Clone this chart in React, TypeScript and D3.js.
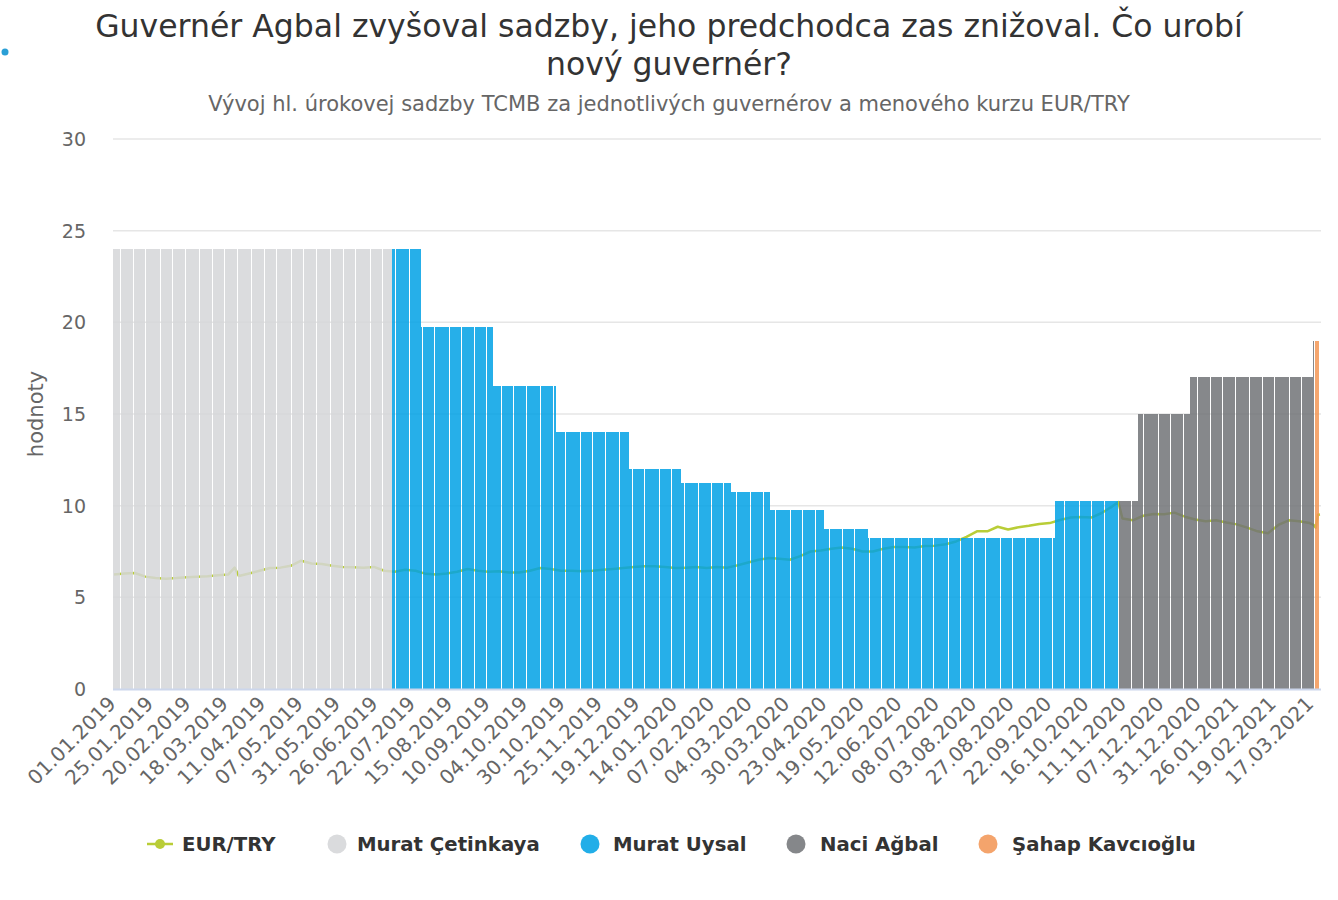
import * as d3 from "d3";

// business-day category axis, 01.01.2019 .. 23.03.2021
const rangeStart = "01.01.2019";
const rangeEnd = "23.03.2021";

const tickLabels = [
  "01.01.2019", "25.01.2019", "20.02.2019", "18.03.2019", "11.04.2019", "07.05.2019",
  "31.05.2019", "26.06.2019", "22.07.2019", "15.08.2019", "10.09.2019", "04.10.2019",
  "30.10.2019", "25.11.2019", "19.12.2019", "14.01.2020", "07.02.2020", "04.03.2020",
  "30.03.2020", "23.04.2020", "19.05.2020", "12.06.2020", "08.07.2020", "03.08.2020",
  "27.08.2020", "22.09.2020", "16.10.2020", "11.11.2020", "07.12.2020", "31.12.2020",
  "26.01.2021", "19.02.2021", "17.03.2021",
];

// TCMB one-week repo rate, value in force from each date
const rateDates = [
  "01.01.2019", "26.07.2019", "13.09.2019", "25.10.2019", "13.12.2019", "17.01.2020",
  "20.02.2020", "18.03.2020", "23.04.2020", "22.05.2020", "25.09.2020", "20.11.2020",
  "25.12.2020", "18.03.2021",
];
const rateValues = [24, 19.75, 16.5, 14, 12, 11.25, 10.75, 9.75, 8.75, 8.25, 10.25, 15, 17, 19];
const rateLastDate = "22.03.2021";

const governors = ["Murat Çetinkaya", "Murat Uysal", "Naci Ağbal", "Şahap Kavcıoğlu"];
const governorStart = ["01.01.2019", "08.07.2019", "09.11.2020", "19.03.2021"];
const governorFill = ["#d5d6d8", "#00a1e5", "#717377", "#f39655"];
const governorLegend = ["#dadbdd", "#22aee8", "#85878a", "#f4a46c"];

const eurTryDates = [
  "01.01.2019", "08.01.2019", "15.01.2019", "22.01.2019", "29.01.2019", "05.02.2019",
  "12.02.2019", "19.02.2019", "26.02.2019", "05.03.2019", "12.03.2019", "19.03.2019",
  "22.03.2019", "26.03.2019", "02.04.2019", "09.04.2019", "16.04.2019", "23.04.2019",
  "30.04.2019", "07.05.2019", "14.05.2019", "21.05.2019", "28.05.2019", "04.06.2019",
  "11.06.2019", "18.06.2019", "25.06.2019", "02.07.2019", "09.07.2019", "16.07.2019",
  "23.07.2019", "30.07.2019", "06.08.2019", "13.08.2019", "20.08.2019", "27.08.2019",
  "03.09.2019", "10.09.2019", "17.09.2019", "24.09.2019", "01.10.2019", "08.10.2019",
  "15.10.2019", "22.10.2019", "29.10.2019", "05.11.2019", "12.11.2019", "19.11.2019",
  "26.11.2019", "03.12.2019", "10.12.2019", "17.12.2019", "24.12.2019", "31.12.2019",
  "07.01.2020", "14.01.2020", "21.01.2020", "28.01.2020", "04.02.2020", "11.02.2020",
  "18.02.2020", "25.02.2020", "03.03.2020", "10.03.2020", "17.03.2020", "24.03.2020",
  "31.03.2020", "07.04.2020", "14.04.2020", "21.04.2020", "28.04.2020", "05.05.2020",
  "12.05.2020", "19.05.2020", "26.05.2020", "02.06.2020", "09.06.2020", "16.06.2020",
  "23.06.2020", "30.06.2020", "07.07.2020", "14.07.2020", "21.07.2020", "28.07.2020",
  "04.08.2020", "11.08.2020", "18.08.2020", "25.08.2020", "01.09.2020", "08.09.2020",
  "15.09.2020", "22.09.2020", "29.09.2020", "06.10.2020", "13.10.2020", "20.10.2020",
  "27.10.2020", "03.11.2020", "06.11.2020", "10.11.2020", "17.11.2020", "24.11.2020",
  "01.12.2020", "08.12.2020", "15.12.2020", "22.12.2020", "29.12.2020", "05.01.2021",
  "12.01.2021", "19.01.2021", "26.01.2021", "02.02.2021", "09.02.2021", "16.02.2021",
  "23.02.2021", "02.03.2021", "09.03.2021", "16.03.2021", "18.03.2021", "19.03.2021",
  "22.03.2021", "23.03.2021",
];
const eurTryValues = [
  6.25, 6.3, 6.33, 6.13, 6.05, 6.02,
  6.05, 6.1, 6.12, 6.15, 6.2, 6.25,
  6.62, 6.16, 6.3, 6.45, 6.6, 6.62,
  6.72, 7.0, 6.85, 6.82, 6.72, 6.65,
  6.64, 6.62, 6.66, 6.45, 6.4, 6.5,
  6.45, 6.28, 6.25, 6.3, 6.4, 6.55,
  6.45, 6.4, 6.42, 6.35, 6.35, 6.45,
  6.6, 6.55, 6.45, 6.45, 6.42, 6.45,
  6.5, 6.55, 6.6, 6.65, 6.7, 6.7,
  6.65, 6.6, 6.62, 6.65, 6.6, 6.65,
  6.62, 6.75, 6.9, 7.05, 7.15, 7.1,
  7.05, 7.25, 7.5, 7.55, 7.65, 7.72,
  7.65, 7.5, 7.5, 7.65, 7.75, 7.75,
  7.72, 7.8, 7.82, 7.9, 8.05, 8.3,
  8.6, 8.6, 8.85, 8.7, 8.82, 8.9,
  9.0, 9.05, 9.22, 9.35, 9.38, 9.35,
  9.6, 9.95, 10.2, 9.3, 9.2, 9.45,
  9.55, 9.53, 9.62, 9.4, 9.25, 9.15,
  9.2, 9.08, 8.98, 8.8, 8.6, 8.5,
  8.95, 9.2, 9.15, 9.05, 8.95, 8.8,
  9.5, 9.52,
];

const parse = d3.timeParse("%d.%m.%Y");
const fmt = d3.timeFormat("%d.%m.%Y");

const W = 1338;
const H = 900;
const plot = { left: 113, right: 1321, top: 139, bottom: 689 };
const font = "'DejaVu Sans', sans-serif";

export default function App() {
  const days = d3.timeDay
    .range(parse(rangeStart)!, d3.timeDay.offset(parse(rangeEnd)!, 1))
    .filter((d) => d.getDay() !== 0 && d.getDay() !== 6);
  const categories = days.map(fmt);

  const x = d3.scaleBand<string>().domain(categories).range([plot.left, plot.right]).padding(0);
  const y = d3.scaleLinear().domain([0, 30]).range([plot.bottom, plot.top]);
  const bw = x.bandwidth();

  const rateStarts = rateDates.map((d) => parse(d)!);
  const govStarts = governorStart.map((d) => parse(d)!);
  const lastRateDay = parse(rateLastDate)!;

  const bars = days
    .filter((d) => d <= lastRateDay)
    .map((d) => {
      const ri = d3.bisectRight(rateStarts, d) - 1;
      const gi = d3.bisectRight(govStarts, d) - 1;
      return { key: fmt(d), value: rateValues[ri], gov: gi };
    });

  const linePts = eurTryDates.map((d, i) => [x(d)! + bw / 2, y(eurTryValues[i])] as [number, number]);
  const linePath = d3.line().curve(d3.curveLinear)(linePts) || "";

  const yTicks = y.ticks(6);

  const legendItems = [
    { label: "EUR/TRY", sx: 160, tx: 182 },
    { label: governors[0], sx: 337, tx: 357, c: governorLegend[0] },
    { label: governors[1], sx: 590, tx: 613, c: governorLegend[1] },
    { label: governors[2], sx: 796, tx: 820, c: governorLegend[2] },
    { label: governors[3], sx: 988, tx: 1012, c: governorLegend[3] },
  ];

  return (
    <svg
      width={W}
      height={H}
      style={{ position: "absolute", left: 0, top: 0, background: "#fff" }}
      fontFamily={font}
    >
      <circle cx={5} cy={52} r={3.5} fill="#2a9fd6" />
      <text x={669} y={37} textAnchor="middle" fontSize={31.5} fill="#333">
        Guvernér Agbal zvyšoval sadzby, jeho predchodca zas znižoval. Čo urobí
      </text>
      <text x={669} y={75} textAnchor="middle" fontSize={31.5} fill="#333">
        nový guvernér?
      </text>
      <text x={669} y={111} textAnchor="middle" fontSize={21} fill="#666">
        Vývoj hl. úrokovej sadzby TCMB za jednotlivých guvernérov a menového kurzu EUR/TRY
      </text>

      {yTicks.map((t) => (
        <g key={t}>
          {t > 0 && (
            <line x1={plot.left} x2={plot.right} y1={y(t)} y2={y(t)} stroke="#e6e6e6" strokeWidth={1.5} />
          )}
          <text x={86} y={y(t) + 7} textAnchor="end" fontSize={19} fill="#666">
            {t}
          </text>
        </g>
      ))}
      <text
        transform={`translate(43,${(plot.top + plot.bottom) / 2}) rotate(-90)`}
        textAnchor="middle"
        fontSize={21}
        fill="#666"
      >
        hodnoty
      </text>

      <path d={linePath} fill="none" stroke="#b9cd37" strokeWidth={2.5} strokeLinejoin="round" />

      <g>
        {bars.map((b) => {
          const x0 = x(b.key)!;
          const l = Math.round(x0);
          const r = Math.round(x0 + bw);
          // white seam where the column edges fall apart on a 2x pixel grid
          const seam = Math.round(2 * (x0 + bw)) - Math.round(2 * x0 + 4) >= 1 ? 1 : 0;
          return (
            <rect
              key={b.key}
              x={l}
              y={Math.round(y(b.value))}
              width={Math.max(1, r - l - seam)}
              height={Math.round(y(0)) - Math.round(y(b.value))}
              fill={governorFill[b.gov]}
              fillOpacity={0.85}
            />
          );
        })}
      </g>

      <line x1={plot.left} x2={plot.right} y1={plot.bottom + 0.5} y2={plot.bottom + 0.5} stroke="#ccd6eb" strokeWidth={2} />

      {tickLabels.map((t) => {
        const tx = x(t)! + bw / 2 + 3;
        const ty = 705;
        return (
          <text
            key={t}
            transform={`translate(${tx},${ty}) rotate(-45)`}
            textAnchor="end"
            fontSize={20}
            fill="#666"
          >
            {t}
          </text>
        );
      })}

      {legendItems.map((it) => (
        <g key={it.label}>
          {it.c ? (
            <circle cx={it.sx} cy={844} r={9.5} fill={it.c} />
          ) : (
            <g>
              <line x1={it.sx - 13} x2={it.sx + 13} y1={844} y2={844} stroke="#b9cd37" strokeWidth={2.5} />
              <circle cx={it.sx} cy={844} r={5} fill="#b9cd37" />
            </g>
          )}
          <text x={it.tx} y={851} fontSize={19.7} fontWeight="bold" fill="#333">
            {it.label}
          </text>
        </g>
      ))}
    </svg>
  );
}
